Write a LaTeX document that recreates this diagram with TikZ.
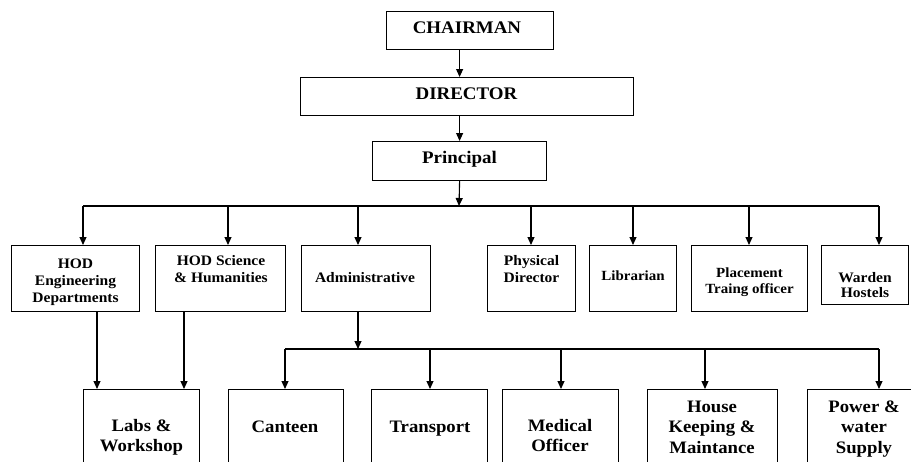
\documentclass[tikz,border=0pt]{standalone}
\usepackage{fontspec}
\setmainfont{Liberation Serif}[FakeStretch=1.07]
\usetikzlibrary{arrows.meta}
\newcommand{\mlines}[1]{\begin{tabular}[t]{@{}c@{}}#1\end{tabular}}
\tikzset{
  box/.style={draw, line width=1.2pt, inner sep=0pt, anchor=north west},
  arr/.style={line width=1.1pt, -{Triangle[length=8pt,width=7pt]}},
  ln/.style={line width=1.1pt},
  ttop/.style={anchor=base, inner sep=0pt, font=\bfseries\fontsize{17.7}{20}\selectfont},
  tmid/.style={anchor=base, inner sep=0pt, font=\bfseries\fontsize{14.5}{17}\selectfont},
  tmids/.style={anchor=base, inner sep=0pt, font=\bfseries\fontsize{14}{16}\selectfont},
  tlow/.style={anchor=base, inner sep=0pt, font=\bfseries\fontsize{17.5}{20.5}\selectfont},
}
\begin{document}
\begin{tikzpicture}[x=1pt,y=-1pt]
\useasboundingbox (0,0) rectangle (911,461);
\clip (0,0) rectangle (911,461);
% boxes
\node[box, minimum width=167pt, minimum height=38pt] (chair) at (386,11) {};
\node[box, minimum width=333pt, minimum height=38pt] (dir) at (300,77) {};
\node[box, minimum width=174pt, minimum height=39pt] (prin) at (372,141) {};
\node[box, minimum width=128pt, minimum height=66pt] (eng) at (11,245) {};
\node[box, minimum width=130pt, minimum height=66pt] (sci) at (155,245) {};
\node[box, minimum width=129pt, minimum height=66pt] (adm) at (301,245) {};
\node[box, minimum width=88pt, minimum height=66pt] (phy) at (487,245) {};
\node[box, minimum width=87pt, minimum height=66pt] (lib) at (589,245) {};
\node[box, minimum width=116pt, minimum height=66pt] (plc) at (691,245) {};
\node[box, minimum width=87pt, minimum height=59pt] (war) at (821,245) {};
\node[box, minimum width=116pt, minimum height=90pt] (labs) at (83,389) {};
\node[box, minimum width=115pt, minimum height=90pt] (cant) at (228,389) {};
\node[box, minimum width=116pt, minimum height=90pt] (trans) at (371,389) {};
\node[box, minimum width=116pt, minimum height=90pt] (med) at (502,389) {};
\node[box, minimum width=130pt, minimum height=90pt] (house) at (647,389) {};
\node[box, minimum width=120pt, minimum height=90pt] (power) at (807,389) {};
% texts
\node[ttop] (tchair) at (467,33) {CHAIRMAN};
\node[ttop] (tdir) at (466.5,99) {DIRECTOR};
\node[ttop] (tprin) at (459.5,163) {Principal};
\node[tmid] (teng) at (75.5,268) {\mlines{HOD\\Engineering\\Departments}};
\node[tmid] (tsci) at (221,265) {\mlines{HOD Science\\\& Humanities}};
\node[tmid] (tadm) at (365,282) {Administrative};
\node[tmid] (tphy) at (531.5,265) {\mlines{Physical\\Director}};
\node[tmids] (tlib) at (633,280) {Librarian};
\node[tmids] (tplc) at (749.5,277) {\mlines{Placement\\Traing officer}};
\node[tmid] (twar) at (865,282) {\mlines{Warden\\[-2pt]Hostels}};
\node[tlow] (tlabs) at (141.5,431) {\mlines{Labs \&\\Workshop}};
\node[tlow] (tcant) at (285,432) {Canteen};
\node[tlow] (ttrans) at (430,432) {Transport};
\node[tlow] (tmed) at (560,431) {\mlines{Medical\\Officer}};
\node[tlow] (thouse) at (712,412) {\mlines{House\\Keeping \&\\Maintance}};
\node[tlow] (tpower) at (864,412) {\mlines{Power \&\\water\\Supply}};
% top chain
\draw[arr] (chair.south -| prin.south) -- (dir.north -| prin.south);
\draw[arr] (dir.south -| prin.north) -- (prin.north);
\coordinate (b0) at (459,206);
\draw[arr] (prin.south) -- (b0);
% first bus
\coordinate (d1) at (83,206);
\coordinate (d2) at (228,206);
\coordinate (d3) at (358,206);
\coordinate (d4) at (531,206);
\coordinate (d5) at (633,206);
\coordinate (d6) at (749,206);
\coordinate (d7) at (879,206);
\draw[ln] (d1) -- (d7);
\draw[arr] (d1) -- (d1 |- eng.north);
\draw[arr] (d2) -- (d2 |- sci.north);
\draw[arr] (d3) -- (d3 |- adm.north);
\draw[arr] (d4) -- (d4 |- phy.north);
\draw[arr] (d5) -- (d5 |- lib.north);
\draw[arr] (d6) -- (d6 |- plc.north);
\draw[arr] (d7) -- (d7 |- war.north);
% HODs to labs
\coordinate (p1) at (97,350);
\coordinate (p2) at (184,350);
\draw[arr] (p1 |- eng.south) -- (p1 |- labs.north);
\draw[arr] (p2 |- sci.south) -- (p2 |- labs.north);
% admin bus
\coordinate (a0) at (358,349);
\draw[arr] (a0 |- adm.south) -- (a0);
\coordinate (e1) at (285,349);
\coordinate (e2) at (430,349);
\coordinate (e3) at (561,349);
\coordinate (e4) at (705,349);
\coordinate (e5) at (879,349);
\draw[ln] (e1) -- (e5);
\draw[arr] (e1) -- (e1 |- cant.north);
\draw[arr] (e2) -- (e2 |- trans.north);
\draw[arr] (e3) -- (e3 |- med.north);
\draw[arr] (e4) -- (e4 |- house.north);
\draw[arr] (e5) -- (e5 |- power.north);
\end{tikzpicture}
\end{document}
